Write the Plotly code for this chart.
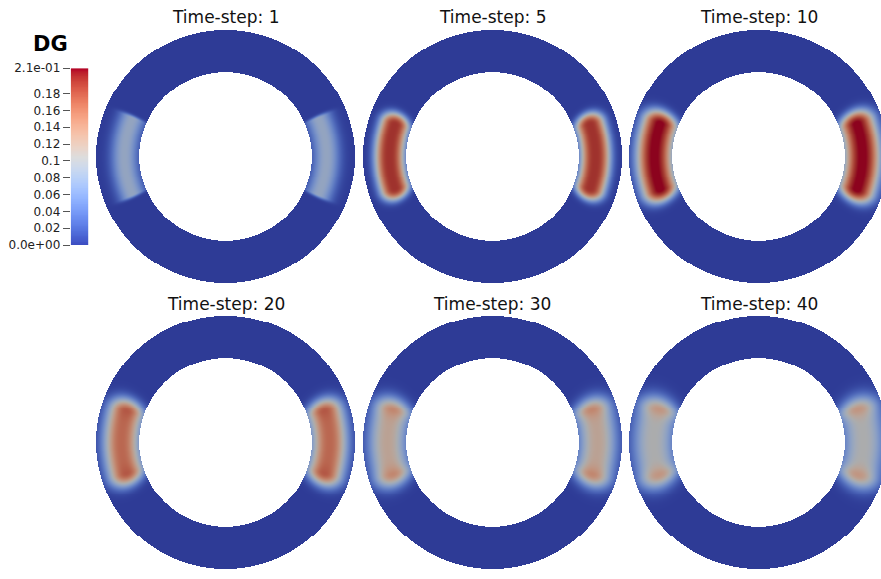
import numpy as np
import plotly.graph_objects as go

# ---- data -------------------------------------------------------------
time_steps = [1, 5, 10, 20, 30, 40]
# DG level at the middle of each arc-shaped patch and near its two ends
dg_mid = [0.082, 0.196, 0.212, 0.168, 0.122, 0.104]
dg_end = [0.082, 0.196, 0.212, 0.178, 0.150, 0.138]
# patch geometry in pixels: centre-line radius, half arc length,
# radial / along-arc fall-off widths and fall-off sharpness
patch_radius = [101.0, 103.0, 104.0, 104.0, 105.0, 105.0]
patch_half_len = [40.0, 33.0, 34.0, 31.0, 31.0, 31.0]
falloff_radial = [13.0, 15.0, 18.0, 18.0, 19.0, 20.5]
falloff_arc = [3.0, 12.0, 13.0, 14.0, 15.5, 17.0]
falloff_power = [2.2, 3.0, 2.7, 2.5, 2.4, 2.4]
end_peak_arc = [35.0, 35.0, 35.0, 35.0, 36.0, 36.0]

cbar_tickvals = [0.0, 0.02, 0.04, 0.06, 0.08, 0.10, 0.12, 0.14, 0.16, 0.18, 0.21]
cbar_ticktext = ["0.0e+00", "0.02", "0.04", "0.06", "0.08", "0.1",
                 "0.12", "0.14", "0.16", "0.18", "2.1e-01"]
DG_MIN, DG_MAX = 0.0, 0.21

# ---- colour map (diverging cool-to-warm) ------------------------------
cool_warm = [
    (59, 76, 192), (68, 90, 204), (77, 104, 215), (87, 117, 225), (98, 130, 234),
    (108, 142, 241), (119, 154, 247), (130, 165, 251), (141, 176, 254), (152, 185, 255),
    (163, 194, 255), (174, 201, 253), (184, 208, 249), (194, 213, 244), (204, 217, 238),
    (213, 219, 230), (221, 221, 221), (229, 216, 209), (236, 211, 197), (241, 204, 185),
    (245, 196, 173), (247, 187, 160), (247, 177, 148), (247, 166, 135), (244, 154, 123),
    (241, 141, 111), (236, 127, 99), (229, 112, 88), (222, 96, 77), (213, 80, 66),
    (203, 62, 56), (192, 40, 47), (180, 4, 38),
]


def make_scale(shade):
    n = len(cool_warm) - 1
    return [[i / n, "rgb(%d,%d,%d)" % tuple(round(c * shade) for c in rgb)]
            for i, rgb in enumerate(cool_warm)]


# ---- layout geometry (pixels) -----------------------------------------
W, H = 881, 579
col_x = [225.5, 492.0, 758.7]
row_y = [153.0, 445.8]
title_y = [10.5, 304.0]
r_out, r_in = 129.5, 86.3


def ring_field(k):
    off = np.arange(-131, 132)
    dx, dy = np.meshgrid(off, off)
    r = np.hypot(dx, dy)
    phi = np.arctan2(np.abs(dy), np.abs(dx))          # same patch on both sides
    arc = patch_radius[k] * phi                        # arc length from the equator
    d_rad = (r - patch_radius[k]) / falloff_radial[k]
    d_arc = np.maximum(0.0, arc - patch_half_len[k]) / falloff_arc[k]
    dist = np.sqrt(d_rad ** 2 + d_arc ** 2)
    amp = dg_mid[k] + (dg_end[k] - dg_mid[k]) * np.exp(-((arc - end_peak_arc[k]) / 10.0) ** 2)
    z = amp * np.exp(-dist ** falloff_power[k])
    z[(r < r_in) | (r > r_out)] = np.nan
    return off, z.astype(np.float32)


fig = go.Figure()

for k, ts in enumerate(time_steps):
    cx = col_x[k % 3]
    cy = row_y[k // 3]
    off, z = ring_field(k)
    fig.add_trace(go.Heatmap(
        x=cx + off, y=cy + off, z=z, coloraxis="coloraxis",
        zsmooth=False, hoverinfo="skip", xaxis="x", yaxis="y",
    ))
    fig.add_annotation(
        x=cx, y=title_y[k // 3], xref="x", yref="y",
        text="Time-step: %d" % ts, showarrow=False,
        font=dict(family="DejaVu Sans", size=17, color="#111111"),
        xanchor="center", yanchor="middle",
    )

# colour bar drawn as a gradient on its own axis
cb_vals = np.linspace(DG_MIN, DG_MAX, 211)
fig.add_trace(go.Heatmap(
    x=[0, 1], y=cb_vals, z=np.column_stack([cb_vals, cb_vals]),
    coloraxis="coloraxis2", zsmooth="best", hoverinfo="skip",
    xaxis="x2", yaxis="y2",
))

fig.add_annotation(
    x=50, y=37.5, xref="x", yref="y", text="<b>DG</b>", showarrow=False,
    font=dict(family="DejaVu Sans", size=21, color="#000000"),
    xanchor="center", yanchor="middle",
)

cb_left, cb_right, cb_top, cb_bottom = 70.7, 88.3, 62.7, 244.0

fig.update_layout(
    width=W, height=H,
    margin=dict(l=0, r=0, t=0, b=0),
    paper_bgcolor="white", plot_bgcolor="white",
    showlegend=False,
    coloraxis=dict(colorscale=make_scale(0.78), cmin=DG_MIN, cmax=DG_MAX, showscale=False),
    coloraxis2=dict(colorscale=make_scale(1.0), cmin=DG_MIN, cmax=DG_MAX, showscale=False),
    xaxis=dict(domain=[0, 1], range=[0, W], visible=False, fixedrange=True),
    yaxis=dict(domain=[0, 1], range=[H, 0], visible=False, fixedrange=True),
    xaxis2=dict(domain=[cb_left / W, cb_right / W], range=[-0.5, 1.5], visible=False,
                anchor="y2"),
    yaxis2=dict(domain=[(H - cb_bottom) / H, (H - cb_top) / H], range=[DG_MIN, DG_MAX],
                anchor="x2", side="left", showgrid=False, zeroline=False, showline=False,
                tickmode="array", tickvals=cbar_tickvals, ticktext=cbar_ticktext,
                ticks="outside", ticklen=7, tickwidth=1, tickcolor="#555555",
                tickfont=dict(family="DejaVu Sans", size=12, color="#222222")),
)

fig.write_html("out.html")
